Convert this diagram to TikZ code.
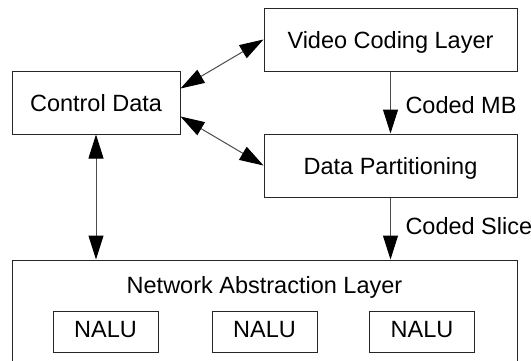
\documentclass[tikz,border=0pt]{standalone}
\usepackage{fontspec}
\setmainfont{Liberation Sans}
\usetikzlibrary{arrows.meta}

\tikzstyle{layerbox} = [draw=black!85, line width=0.5pt, rectangle, inner sep=0pt, text height=0.9em, text depth=0pt]
\tikzstyle{nalubox} = [draw=black!85, line width=0.5pt, rectangle, inner sep=0pt, minimum width=52.5pt, minimum height=20.5pt, text depth=0.2em]
\tikzstyle{flow} = [draw=black!70, line width=0.5pt]
\tikzstyle{flowlabel} = [inner sep=0pt, anchor=west, xshift=7.25pt]

\begin{document}
\begin{tikzpicture}[x=0.5pt, y=-0.5pt, font=\fontsize{11.75}{14}\selectfont,
    >={Triangle[length=12pt, width=7.5pt, color=black]}]
\useasboundingbox (0,0) rectangle (531,360);
\clip (0,0) rectangle (531,360);

\node[layerbox, minimum width=126.5pt, minimum height=31.5pt] (vcl) at (390.5,39.5) {Video Coding Layer};
\node[layerbox, minimum width=84pt, minimum height=31.5pt] (ctrl) at (96,102.5) {Control Data};
\node[layerbox, minimum width=126.5pt, minimum height=31.5pt] (dp) at (390.5,165.5) {Data Partitioning};
\node[layerbox, minimum width=252.5pt, minimum height=58pt] (nal) at (264.5,318) {};
\node (naltitle) at (264.5,287) {Network Abstraction Layer};
\foreach \i/\x in {1/105.5, 2/264.5, 3/422}
    \node[nalubox] (nalu\i) at (\x,331.5) {NALU};

% control links
\draw[flow, <->] ([yshift=7pt]ctrl.east) -- (vcl.west);
\draw[flow, <->] ([yshift=-7pt]ctrl.east) -- (dp.west);
\draw[flow, <->] (ctrl.south) -- (ctrl.south |- nal.north);

% data path
\draw[flow, ->] (vcl) -- node[flowlabel, yshift=-1.25pt] (mblabel) {Coded MB} (dp);
\draw[flow, ->] (dp.south) -- node[flowlabel, yshift=1.25pt] (slicelabel) {Coded Slice} (dp.south |- nal.north);
\end{tikzpicture}
\end{document}
